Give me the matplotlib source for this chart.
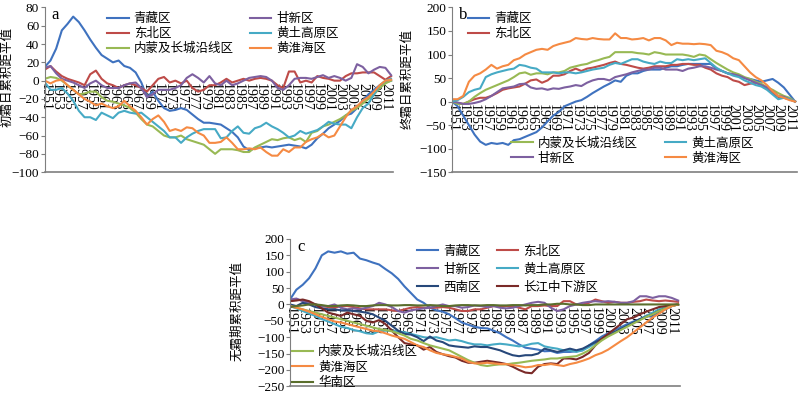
import matplotlib
matplotlib.use("Agg")
import matplotlib.pyplot as plt

plt.rcParams["font.family"] = ["Liberation Serif", "Noto Sans CJK SC"]
plt.rcParams["axes.unicode_minus"] = True

years = list(range(1951, 2013))
tick_years = years[::2]

# ---- panel a: 初霜日累积距平值 ----
a_qz = [15, 22, 35, 55, 62, 70, 64, 55, 45, 36,
        28, 24, 20, 22, 16, 14, 9, -2, -18, -12,
        -22, -30, -33, -32, -30, -32, -37, -42, -46, -46,
        -47, -48, -52, -56, -62, -72, -76, -74, -73, -72,
        -73, -72, -71, -70, -71, -72, -74, -70, -63, -58,
        -52, -48, -44, -38, -36, -30, -22, -15, -10, -5,
        -2, 0]
a_db = [12, 16, 10, 5, 2, 0, -2, -5, 7, 11,
        2, -3, -5, -8, -5, -3, -5, -8, -12, -5,
        2, 4, -2, 0, -3, 0, -8, -12, -10, -5,
        -5, -2, 2, -2, 0, 2, 0, 2, 3, 2,
        0, -5, -8, 10, 10, -2, 0, -2, 5, 3,
        2, 0, 0, 5, 8, 8, 9, 9, 9, 5,
        1, 5]
a_gx = [14, 16, 8, 2, 0, -2, -5, -8, -3, 0,
        -5, -8, -8, -8, -5, -3, -2, -8, -18, -15,
        -10, -10, -10, -8, -5, 3, 7, 3, -2, 5,
        -3, -5, 0, -5, -3, 0, 3, 4, 5, 4,
        0, -8, -10, -5, 2, 3, 3, 2, 4, 6,
        3, 5, 3, 0, 3, 18, 15, 8, 12, 15,
        14, 6]
a_ht = [-2, -10, -10, -8, -14, -22, -33, -40, -40, -43,
        -35, -38, -41, -35, -33, -35, -36, -35, -40, -45,
        -50, -55, -62, -62, -68, -62, -58, -55, -53, -53,
        -53, -63, -62, -55, -50, -57, -58, -52, -50, -46,
        -50, -53, -57, -62, -60, -55, -58, -56, -54, -50,
        -45, -47, -48, -48, -52, -40, -30, -25, -15, -5,
        0, 2]
a_nm = [2, 4, 3, 0, -5, -10, -15, -14, -12, -12,
        -18, -22, -23, -25, -27, -30, -35, -42, -48, -50,
        -55, -60, -62, -62, -60, -64, -66, -68, -70, -75,
        -80, -75, -75, -75, -76, -78, -78, -73, -70, -67,
        -64, -65, -63, -62, -65, -63, -67, -57, -55, -50,
        -48, -45, -42, -38, -33, -30, -25, -20, -15, -8,
        -3, 0]
a_hh = [0, -3, 0, 1, -5, -10, -15, -20, -23, -27,
        -25, -28, -30, -28, -22, -28, -33, -40, -48, -42,
        -38, -45, -55, -53, -55, -51, -52, -57, -60, -68,
        -68, -67, -62, -68, -75, -75, -74, -75, -73, -78,
        -82, -82, -75, -78, -73, -73, -67, -64, -62, -58,
        -62, -60, -50, -40, -32, -28, -22, -18, -12, -5,
        0, 1]

# ---- panel b: 终霜日累积距平值 ----
b_qz = [0, -10, -30, -50, -70, -85, -92, -88, -90, -88,
        -92, -82, -80, -75, -70, -65, -55, -42, -30, -22,
        -10, -5, 0, 3, 10, 18, 25, 32, 38, 45,
        42, 55, 60, 60, 65, 68, 68, 68, 72, 75,
        75, 78, 80, 80, 80, 80, 80, 70, 65, 60,
        58, 55, 50, 48, 45, 42, 45, 48, 40, 30,
        15, 0]
b_db = [0, -3, -5, 0, 5, 8, 8, 12, 18, 25,
        28, 30, 32, 38, 45, 47, 40, 45, 55, 55,
        58, 65, 70, 65, 70, 72, 75, 78, 82, 85,
        80, 78, 75, 72, 70, 72, 75, 75, 75, 78,
        78, 80, 80, 78, 78, 72, 68, 60, 55, 52,
        45, 42, 35, 38, 40, 35, 28, 18, 10, 8,
        5, 0]
b_gx = [0, -2, -5, -5, -3, 0, 5, 12, 20, 28,
        30, 32, 37, 38, 30, 27, 28, 25, 28, 27,
        30, 32, 35, 33, 40, 45, 48, 48, 45, 52,
        55, 58, 62, 65, 68, 68, 72, 72, 68, 68,
        68, 65, 70, 72, 75, 75, 72, 68, 65, 60,
        58, 55, 50, 45, 40, 35, 30, 22, 12, 10,
        5, 0]
b_nm = [0, -5, -5, 0, 10, 18, 25, 30, 35, 40,
        45, 52, 60, 62, 57, 60, 60, 58, 62, 62,
        65, 72, 75, 78, 80, 85, 88, 92, 95, 105,
        105, 105, 105, 103, 102, 100, 105, 103, 100, 100,
        100, 100, 98, 95, 100, 98, 90, 82, 75, 68,
        62, 58, 52, 48, 42, 38, 30, 25, 18, 12,
        8, 0]
b_ht = [0, 3, 10, 20, 25, 28, 52, 58, 62, 65,
        68, 70, 78, 76, 72, 70, 62, 62, 62, 60,
        62, 62, 60, 62, 65, 68, 70, 72, 78, 82,
        80, 85, 90, 90, 85, 82, 80, 85, 82, 82,
        90, 88, 90, 88, 90, 92, 82, 72, 65, 60,
        55, 52, 45, 40, 35, 32, 25, 15, 5, 8,
        5, 0]
b_hh = [5, 5, 12, 42, 55, 60, 68, 78, 70, 75,
        78, 88, 92, 100, 105, 110, 112, 110, 118, 122,
        125, 128, 135, 133, 132, 135, 133, 132, 132, 145,
        135, 135, 132, 133, 135, 130, 135, 135, 130, 120,
        125, 123, 123, 122, 123, 122, 120, 108, 105, 100,
        92, 88, 75, 62, 52, 45, 35, 22, 12, 8,
        3, 0]

# ---- panel c: 无霜期累积距平值 ----
c_qz = [15, 45, 60, 80, 110, 150, 162, 158, 162, 155,
        158, 140, 135, 128, 122, 108, 95, 78, 55, 35,
        15, 5, -10, -18, -22, -30, -42, -55, -62, -68,
        -72, -73, -80, -88, -100, -110, -122, -132, -135, -138,
        -143, -142, -148, -145, -145, -143, -140, -125, -112, -98,
        -88, -78, -70, -60, -52, -45, -35, -38, -22, -15,
        -5, 0]
c_db = [10, 15, 12, 5, 0, -5, -8, -10, -5, -5,
        -8, -12, -15, -15, -15, -15, -18, -20, -15, -10,
        -8, -10, -10, -10, -8, -10, -15, -20, -20, -15,
        -15, -10, -5, -5, -5, -5, -10, -15, -5, -5,
        -3, -5, -5, 10, 10, 0, 0, 5, 15, 10,
        5, 8, 5, 5, 8, 10, 15, 12, 10, 12,
        10, 8]
c_gx = [15, 18, 10, 5, 0, -5, -5, 0, -10, -15,
        -12, -15, -10, -5, 5, 0, -8, -20, -25, -18,
        -15, -12, -10, -5, 0, -5, -5, -10, -8, -3,
        -5, -8, -5, -10, -12, -10, -5, 0, 5, 8,
        5, -10, -20, -15, -5, 0, 5, 8, 10, 8,
        10, 8, 5, 5, 10, 25, 25, 20, 25, 25,
        20, 12]
c_ht = [-5, -12, -20, -28, -35, -45, -52, -60, -68, -72,
        -78, -82, -88, -90, -82, -80, -80, -82, -85, -90,
        -95, -100, -102, -100, -105, -110, -108, -112, -118, -122,
        -122, -125, -122, -120, -122, -125, -128, -125, -120, -118,
        -128, -132, -135, -140, -140, -145, -140, -130, -118, -105,
        -95, -85, -75, -65, -55, -45, -35, -25, -15, -8,
        -3, 0]
c_xn = [0, -5, 5, 0, -8, -12, -15, -15, -18, -18,
        -20, -22, -25, -30, -40, -50, -65, -80, -90, -92,
        -100, -112, -98, -110, -115, -125, -128, -130, -132, -128,
        -130, -130, -135, -140, -148, -155, -158, -155, -155, -150,
        -135, -140, -145, -140, -135, -140, -135, -125, -115, -105,
        -95, -85, -75, -65, -55, -45, -38, -30, -20, -12,
        -5, 0]
c_cj = [10, 12, 15, 10, 0, -12, -25, -30, -35, -25,
        -30, -35, -50, -55, -48, -60, -80, -100, -118, -122,
        -125, -138, -130, -145, -152, -158, -162, -172, -178, -178,
        -175, -172, -175, -178, -182, -190, -200, -208, -210, -190,
        -182, -180, -182, -165, -165, -168, -160, -148, -125, -105,
        -90, -75, -60, -45, -40, -30, -22, -15, -8, -5,
        -2, 0]
c_nm = [-5, -10, -15, -20, -25, -30, -35, -40, -45, -50,
        -55, -60, -65, -70, -75, -78, -82, -88, -95, -105,
        -110, -118, -125, -130, -135, -140, -150, -160, -170, -178,
        -185, -188, -185, -183, -183, -180, -178, -175, -172, -170,
        -168, -165, -165, -162, -160, -158, -150, -140, -125, -110,
        -98, -88, -78, -68, -58, -48, -38, -30, -20, -12,
        -5, 0]
c_hh = [-5, -10, -15, -22, -30, -38, -45, -52, -55, -60,
        -65, -70, -75, -80, -82, -88, -95, -100, -105, -115,
        -125, -130, -140, -148, -152, -155, -160, -165, -175, -180,
        -180, -178, -180, -182, -182, -185, -188, -192, -190, -185,
        -185, -182, -185, -188, -182, -178, -172, -165, -155, -148,
        -138, -125, -112, -100, -85, -70, -55, -40, -28, -15,
        -5, 0]
c_hn = [-8, -5, -3, 0, 0, -2, -5, -5, -3, -2,
        -3, -5, -5, -3, -2, -2, -3, -3, -2, -2,
        -3, -3, -2, -3, -5, -5, -3, -2, -2, -3,
        -3, -2, -2, -3, -3, -2, -2, -3, -2, -2,
        0, 0, 2, 2, 0, 0, -2, -2, 0, 0,
        0, 0, 0, 0, 0, 0, 0, 0, 0, 0,
        0, 0]

colors = {
    "青藏区": "#3f72bf",
    "东北区": "#be4b48",
    "甘新区": "#7d60a0",
    "黄土高原区": "#46aac5",
    "内蒙及长城沿线区": "#98b954",
    "黄淮海区": "#f58a43",
    "西南区": "#27487a",
    "长江中下游区": "#7a2a28",
    "华南区": "#5a6e2c",
}

fig = plt.figure(figsize=(8.0, 3.93), dpi=100)
ax_a = fig.add_axes([0.056, 0.562, 0.435, 0.419])
ax_b = fig.add_axes([0.565, 0.562, 0.431, 0.419])
ax_c = fig.add_axes([0.3625, 0.017, 0.4875, 0.375])


def style(ax, ylim, yticks, ylabel, letter, label_xy):
    ax.set_xlim(1951, 2012.3)
    ax.set_ylim(*ylim)
    ax.set_yticks(yticks)
    ax.set_yticklabels([f"{t:d}".replace("-", "\u2212") for t in yticks])
    ax.set_xticks(tick_years)
    ax.set_xticklabels([str(y) for y in tick_years])
    for s in ("top", "right"):
        ax.spines[s].set_visible(False)
    ax.spines["bottom"].set_position(("data", 0))
    ax.spines["bottom"].set_color("none")
    ax.spines["left"].set_color("#7f7f7f")
    ax.axhline(ylim[0], color="#7f7f7f", lw=1.2, clip_on=False)
    ax.tick_params(axis="x", length=0, pad=2, labelsize=10, labelrotation=-90)
    ax.tick_params(axis="y", direction="out", length=3, color="#7f7f7f", labelsize=9.5, pad=1)
    ax.set_ylabel(ylabel, fontsize=9, family=["Noto Sans CJK SC"])
    ax.yaxis.set_label_coords(*label_xy)
    ax.text(0.02, 1.0, letter, transform=ax.transAxes, va="top", ha="left", fontsize=12)
    ax.patch.set_alpha(0)


def draw(ax, series):
    for name, vals in series:
        ax.plot(years, vals, color=colors[name], lw=1.5, label=name)


cjk = {"family": "Noto Sans CJK SC", "size": 9}
leg_kw = dict(frameon=False, prop=cjk, handlelength=1.7, handletextpad=0.4,
              borderpad=0, borderaxespad=0)

# panel a
draw(ax_a, [("青藏区", a_qz), ("东北区", a_db), ("内蒙及长城沿线区", a_nm),
            ("甘新区", a_gx), ("黄土高原区", a_ht), ("黄淮海区", a_hh)])
style(ax_a, (-100, 80), list(range(-100, 81, 20)), "初霜日累积距平值", "a", (-0.09, 0.58))
ax_a.legend(ncol=2, loc="upper left", bbox_to_anchor=(0.18, 0.97),
            labelspacing=0.15, columnspacing=1.3, **leg_kw)

# panel b
lines_b = {}
for name, vals in [("青藏区", b_qz), ("东北区", b_db), ("内蒙及长城沿线区", b_nm),
                   ("甘新区", b_gx), ("黄土高原区", b_ht), ("黄淮海区", b_hh)]:
    lines_b[name], = ax_b.plot(years, vals, color=colors[name], lw=1.5, label=name)
style(ax_b, (-150, 200), list(range(-150, 201, 50)), "终霜日累积距平值", "b", (-0.112, 0.565))
leg1 = ax_b.legend(handles=[lines_b["青藏区"], lines_b["东北区"]], loc="upper left",
                   bbox_to_anchor=(0.045, 0.97), labelspacing=0.15, **leg_kw)
ax_b.add_artist(leg1)
ax_b.legend(handles=[lines_b["内蒙及长城沿线区"], lines_b["甘新区"],
                     lines_b["黄土高原区"], lines_b["黄淮海区"]],
            ncol=2, loc="upper left", bbox_to_anchor=(0.172, 0.215),
            labelspacing=0.15, columnspacing=2.2, **leg_kw)

# panel c
lines_c = {}
for name, vals in [("青藏区", c_qz), ("东北区", c_db), ("甘新区", c_gx),
                   ("黄土高原区", c_ht), ("西南区", c_xn), ("长江中下游区", c_cj),
                   ("内蒙及长城沿线区", c_nm), ("黄淮海区", c_hh), ("华南区", c_hn)]:
    lines_c[name], = ax_c.plot(years, vals, color=colors[name], lw=1.5, label=name)
style(ax_c, (-250, 200), list(range(-250, 201, 50)), "无霜期累积距平值", "c", (-0.12, 0.51))
leg1 = ax_c.legend(handles=[lines_c[n] for n in ["青藏区", "甘新区", "西南区",
                                                  "东北区", "黄土高原区", "长江中下游区"]],
                   ncol=2, loc="upper left", bbox_to_anchor=(0.325, 0.96),
                   labelspacing=0.4, columnspacing=1.3, **leg_kw)
ax_c.add_artist(leg1)
ax_c.legend(handles=[lines_c[n] for n in ["内蒙及长城沿线区", "黄淮海区", "华南区"]],
            loc="lower left", bbox_to_anchor=(0.005, -0.02),
            labelspacing=0.2, **leg_kw)

fig.savefig("out.png", dpi=100)
